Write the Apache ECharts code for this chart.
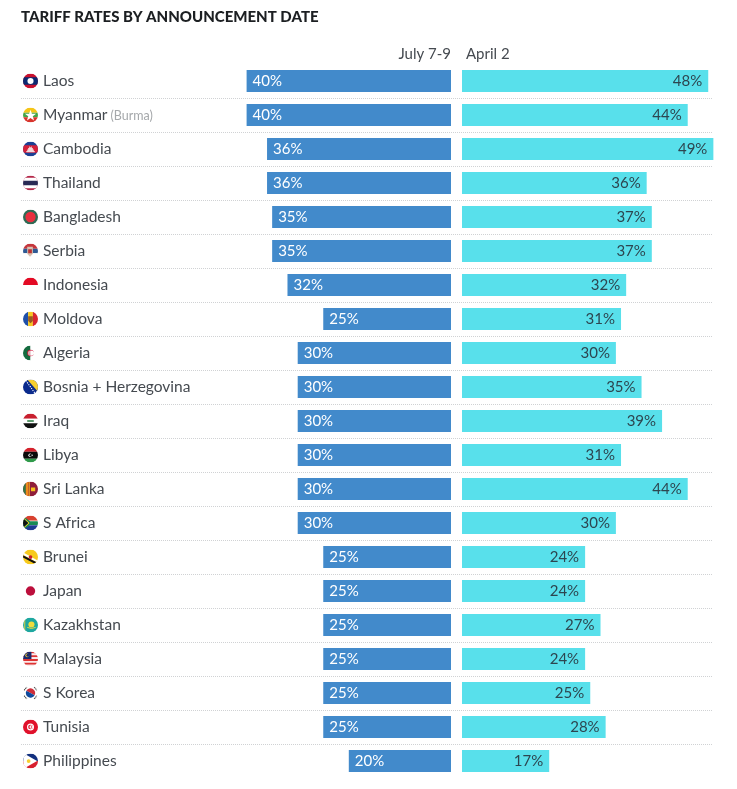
<!DOCTYPE html>
<html><head><meta charset="utf-8">
<style>html,body{margin:0;padding:0;background:#fff}#c{width:737px;height:789px}</style>
<script src="https://cdn.jsdelivr.net/npm/echarts@6/dist/echarts.min.js"></script></head>
<body><div id="c"></div>
<script>
const titleText = 'TARIFF RATES BY ANNOUNCEMENT DATE';
const seriesNames = ['July 7-9', 'April 2'];
const countries = ['Laos','Myanmar','Cambodia','Thailand','Bangladesh','Serbia','Indonesia','Moldova','Algeria','Bosnia + Herzegovina','Iraq','Libya','Sri Lanka','S Africa','Brunei','Japan','Kazakhstan','Malaysia','S Korea','Tunisia','Philippines'];
const notes = {Myanmar:'(Burma)'};
const july = [40,40,36,36,35,35,32,25,30,30,30,30,30,30,25,25,25,25,25,25,20];
const april = [48,44,49,36,37,37,32,31,30,35,39,31,44,30,24,24,27,24,25,28,17];

const bands = (...a) => a.map(([y,h,c]) => `<rect x="0" y="${y}" width="32" height="${h}" fill="${c}"/>`).join('');
const flagArt = {
  'Laos': bands([0,32,'#c8102e'],[8,16,'#0b2a72'])+'<circle cx="16" cy="16" r="6.5" fill="#fff"/>',
  'Myanmar': bands([0,11,'#f5c518'],[11,10,'#43a547'],[21,11,'#d8342c'])+'<path d="M16 5l3 8.5h9l-7.2 5.4 2.8 8.6L16 22.2 8.400 27.500l2.800-8.600L4 13.500h9z" fill="#fff"/>',
  'Cambodia': bands([0,32,'#1b3f94'],[8,16,'#d5203a'])+'<path d="M7 23v-3h2v-3h2v-3h2v-4h1v2h4v-2h1v4h2v3h2v3h2v3z" fill="#f3d9dc"/>',
  'Thailand': bands([0,32,'#b5294a'],[5,22,'#fff'],[11,10,'#2a2a55']),
  'Bangladesh': bands([0,32,'#2f6b55'])+'<circle cx="16" cy="16" r="11" fill="#e8303f"/>',
  'Serbia': bands([0,11,'#c6363c'],[11,10,'#2f5a94'],[21,11,'#fff'])+'<path d="M9 7h12v15l-6 6-6-6z" fill="#d8c0b0"/><path d="M11 12h8v9h-8z" fill="#b33"/>',
  'Indonesia': bands([0,16,'#e30a24'],[16,16,'#fff']),
  'Moldova': '<rect width="11" height="32" fill="#1f4fa8"/><rect x="11" width="10" height="32" fill="#f6c91e"/><rect x="21" width="11" height="32" fill="#d8262f"/><path d="M11 10h10v10l-5 5-5-5z" fill="#9a5a22"/>',
  'Algeria': '<rect width="16" height="32" fill="#146b3f"/><rect x="16" width="16" height="32" fill="#fff"/><circle cx="16" cy="16" r="7" fill="#d21034"/><circle cx="18" cy="16" r="5.600" fill="#fff"/><path d="M16 10.400a5.600 5.600 0 0 0 0 11.200z" fill="#d9a8b0"/>',
  'Bosnia + Herzegovina': '<rect width="32" height="32" fill="#0a2a8c"/><path d="M9 0h23v26z" fill="#f7cf2f"/><path d="M6 2l20 28" stroke="#fff" stroke-width="2.400" stroke-dasharray="2.500 2.500"/>',
  'Iraq': bands([0,11,'#c8202f'],[11,10,'#fff'],[21,11,'#111'])+'<path d="M9 16h14" stroke="#2a7a3f" stroke-width="3"/>',
  'Libya': bands([0,9,'#d4222c'],[9,15,'#0a0a0a'],[24,8,'#2f9a4a'])+'<circle cx="15" cy="16.500" r="3.500" fill="#fff"/><circle cx="16.500" cy="16.500" r="2.800" fill="#0a0a0a"/><circle cx="19.500" cy="16.500" r="1.400" fill="#fff"/>',
  'Sri Lanka': '<rect width="32" height="32" fill="#8f1d3a"/><rect width="6" height="32" fill="#2f7a45"/><rect x="6" width="6" height="32" fill="#ee8b1e"/><rect x="13" y="0" width="1.500" height="32" fill="#f5c11e"/><path d="M17 13h9v8h-9z" fill="#f5c11e"/>',
  'S Africa': bands([0,11,'#d8412f'],[11,10,'#fff'],[21,11,'#1f3a93'])+'<path d="M0 1l15 11h17v8H15L0 31z" fill="#1a8a55"/><path d="M0 6l11 10L0 26z" fill="#111"/><path d="M0 4l13 12L0 28" fill="none" stroke="#f6c01e" stroke-width="2"/>',
  'Brunei': '<rect width="32" height="32" fill="#f7ca1d"/><path d="M0 6L32 24v5L0 11z" fill="#fff"/><path d="M0 12L32 29v5L0 17z" fill="#111"/><circle cx="16" cy="16" r="4" fill="#c8202f"/>',
  'Japan': '<circle cx="16" cy="16" r="10" fill="#bc0f3c"/>',
  'Kazakhstan': '<rect width="32" height="32" fill="#1ea7a0"/><rect x="2" width="3" height="32" fill="#e6d03a" opacity=".7"/><circle cx="18" cy="15" r="6.500" fill="#f0dc3c"/><path d="M9 21q9 5 18 0" stroke="#f0dc3c" stroke-width="2" fill="none"/>',
  'Malaysia': bands([0,4,'#d33'],[4,4,'#fbeaea'],[8,4,'#d33'],[12,4,'#fbeaea'],[16,4,'#d33'],[20,4,'#fbeaea'],[24,4,'#d33'],[28,4,'#fbeaea'])+'<rect width="18" height="16" fill="#1a2a6c"/><circle cx="9" cy="8" r="4" fill="#f7cf2f"/><circle cx="10.500" cy="8" r="3.300" fill="#1a2a6c"/>',
  'S Korea': '<path d="M6 16a10 10 0 0 1 20 0z" fill="#cd2e3a" transform="rotate(30 16 16)"/><path d="M6 16a10 10 0 0 0 20 0z" fill="#0f4a9c" transform="rotate(30 16 16)"/><g stroke="#555" stroke-width="3" stroke-dasharray="3 1.200"><path d="M2 10l6-7M24 3l6 7M2 22l6 7M24 29l6-7"/></g>',
  'Tunisia': '<rect width="32" height="32" fill="#e0112b"/><circle cx="16" cy="16" r="7.500" fill="#fff"/><circle cx="16" cy="16" r="5" fill="#e0112b"/><circle cx="17.500" cy="16" r="3.800" fill="#fff"/><circle cx="18" cy="16" r="1.500" fill="#e0112b"/>',
  'Philippines': bands([0,16,'#12307f'],[16,16,'#d8202f'])+'<path d="M2 0L30 16 2 32z" fill="#fff"/><path d="M3 0L3 32" stroke="#fff" stroke-width="5"/><circle cx="12" cy="16" r="4" fill="#f7cf2f"/>'
};
const flagUri = name => 'data:image/svg+xml;charset=utf-8,' + encodeURIComponent(
  `<svg xmlns="http://www.w3.org/2000/svg" width="64" height="64" viewBox="0 0 32 32"><defs><clipPath id="c"><circle cx="16" cy="16" r="16"/></clipPath></defs><g clip-path="url(#c)">${flagArt[name]}</g></svg>`);

const FONT = 'Lato, sans-serif';
const rich = {
  name: {color:'#454a50', fontSize:15.5, fontFamily:FONT, padding:[0,0,0,5]},
  note: {color:'#a5a8ab', fontSize:12.5, fontFamily:FONT, padding:[1,0,0,3]}
};
countries.forEach((n,i) => { rich['f'+i] = {width:15, height:15, backgroundColor:{image:flagUri(n)}}; });

const headerName = {color:'#454a50', fontSize:15, fontFamily:FONT};
const valueAxis = (gridIndex, inverse, name) => ({
  type:'value', gridIndex, min:0, max:50, inverse, position:'top',
  name, nameLocation:'start', nameGap:0,
  nameTextStyle:{...headerName, align: inverse ? 'right' : 'left', padding: inverse ? [0,0,2,0] : [0,0,2,4], verticalAlign:'bottom'},
  axisLine:{show:false}, axisTick:{show:false}, axisLabel:{show:false}, splitLine:{show:false}
});
const catAxis = gridIndex => ({
  type:'category', gridIndex, data:countries, inverse:true,
  axisLine:{show:false}, axisTick:{show:false}, axisLabel:{show:false}, splitLine:{show:false}
});
const option = {
  animation:false,
  backgroundColor:'#fff',
  title:{text:titleText, left:16, top:5, textStyle:{color:'#1c1f22', fontSize:15, fontWeight:900, fontFamily:FONT}},
  grid:[
    {left:21, top:64, width:692, height:714},
    {left:195.5, top:64, width:255.5, height:714},
    {left:462, top:64, width:256.5, height:714}
  ],
  xAxis:[
    {type:'value', gridIndex:0, min:0, max:50, show:false},
    valueAxis(1,true,seriesNames[0]),
    valueAxis(2,false,seriesNames[1])
  ],
  yAxis:[
    {type:'category', gridIndex:0, data:countries, inverse:true,
     axisLine:{show:false}, axisTick:{show:false},
     splitLine:{show:true, interval:0, showMinLine:false, showMaxLine:false, lineStyle:{type:'dotted', color:'#d0d2d4', width:1}},
     axisLabel:{inside:true, interval:0, margin:2, align:'left', rich,
       formatter:(v,i) => `{f${i}|}{name|${v}}` + (notes[v] ? `{note|${notes[v]}}` : '')}},
    catAxis(1), catAxis(2)
  ],
  series:[
    {name:'rows', type:'bar', xAxisIndex:0, yAxisIndex:0, data:[], silent:true},
    {name:seriesNames[0], type:'bar', xAxisIndex:1, yAxisIndex:1, data:july, barWidth:22, itemStyle:{color:'#428acb'},
     label:{show:true, position:'insideLeft', distance:6, color:'#fff', fontSize:15, fontFamily:FONT, formatter:'{c}%'}},
    {name:seriesNames[1], type:'bar', xAxisIndex:2, yAxisIndex:2, data:april, barWidth:22, itemStyle:{color:'#58e0eb'},
     label:{show:true, position:'insideRight', distance:6, color:'#2d4650', fontSize:15, fontFamily:FONT, formatter:'{c}%'}}
  ]
};
const chart = echarts.init(document.getElementById('c'), null, {renderer:'canvas'});
chart.setOption(option);
</script></body></html>
